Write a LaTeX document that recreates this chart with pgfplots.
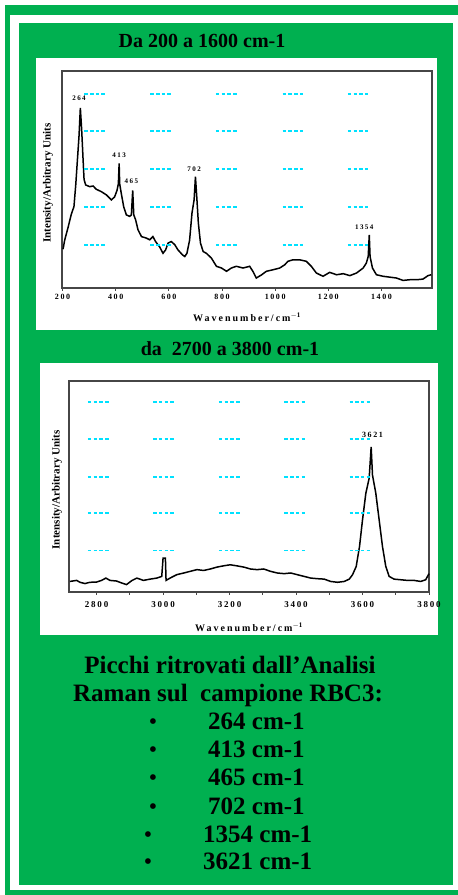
\documentclass[border=0pt]{standalone}
\usepackage{fontspec}
\setmainfont{Liberation Serif}
\newfontfamily\spf[LetterSpace=20]{Liberation Serif}
\usepackage{pgfplots}
\pgfplotsset{compat=1.18}
\definecolor{grn}{RGB}{0,176,80}
\definecolor{cy}{RGB}{0,225,255}
\definecolor{axc}{RGB}{70,70,70}
\newcommand{\cyd}{\textcolor{cy}{\rule{3.5pt}{1.8pt}\hspace{2.2pt}\rule{3.5pt}{1.8pt}\hspace{2.2pt}\rule{3.5pt}{1.8pt}\hspace{2.2pt}\rule{3.5pt}{1.8pt}}}
\newcommand{\bul}{{\fontsize{21}{21}\selectfont\textbullet}}
\pgfplotsset{spec/.style={scale only axis, anchor=south west, ymin=0, ymax=100, ytick=\empty,
  axis line style={axc, line width=1.4pt}, tick style={axc, line width=0.8pt},
  tick align=outside, major tick length=3pt, minor tick length=3pt, xtick pos=lower,
  /pgf/number format/assume math mode=true, /pgf/number format/1000 sep={},
  ylabel style={font=\bfseries\fontsize{11}{12}\selectfont, anchor=center},
  xlabel style={font=\spf\bfseries\fontsize{10}{11}\selectfont, anchor=center},
  clip=false}}
\begin{document}
\begin{tikzpicture}[x=1pt,y=1pt]
\path[use as bounding box] (0,0) rectangle (458,895);
\fill[white] (0,0) rectangle (458,895);
\fill[grn] (5,0) rectangle (458,890);
\fill[white] (10,5) rectangle (458,880);
\fill[grn] (19,10) rectangle (453,872);
\fill[white] (36,565) rectangle (437,837);
\fill[white] (40,260) rectangle (438,532);
% titles
\node[anchor=base, font=\bfseries\fontsize{20}{24}\selectfont] at (202,847) {Da 200 a 1600 cm-1};
\node[anchor=base, font=\bfseries\fontsize{20}{24}\selectfont] at (230,539) {da\ \ 2700 a 3800 cm-1};
% bottom text
\begin{scope}[every node/.style={font=\bfseries\fontsize{25}{28}\selectfont, inner sep=0pt}]
\node[anchor=base] at (230,221.7) {Picchi ritrovati\ dall'Analisi};
\node[anchor=base] at (228,193.4) {Raman sul\ \ campione RBC3:};
\node[anchor=base] at (153,166) {\bul};
\node[anchor=base west] at (208,165) {264 cm-1};
\node[anchor=base] at (153,138.4) {\bul};
\node[anchor=base west] at (208,137.4) {413 cm-1};
\node[anchor=base] at (153,110) {\bul};
\node[anchor=base west] at (208,109) {465 cm-1};
\node[anchor=base] at (153,81.7) {\bul};
\node[anchor=base west] at (208,80.7) {702 cm-1};
\node[anchor=base] at (148,53.7) {\bul};
\node[anchor=base west] at (203,52.7) {1354 cm-1};
\node[anchor=base] at (148,26) {\bul};
\node[anchor=base west] at (203,25) {3621 cm-1};
\end{scope}
% ---------- axis 1
\begin{axis}[spec, at={(62pt,607pt)}, width=370pt, height=217pt,
  xmin=198, xmax=1590, xtick={200,400,...,1400},
  xticklabel style={font=\spf\bfseries\fontsize{8}{9}\selectfont},
  ylabel={Intensity/Arbitrary Units},
  ylabel style={at={(axis description cs:-0.038,0.484)}},
  xlabel={Wavenumber/cm$^{\mathbf{-1}}$},
  xlabel style={at={(axis description cs:0.5,0)}, yshift=-29pt}]
\addplot[black, line width=1.5pt] coordinates {
(202,17.9) (208,22) (221,28) (233,34) (243,37.5) (250,48) (256,59) (262,70) (267,83)
(272,73) (277,60) (281,50) (287,47.5) (302,46.7) (315,47) (327,45.5) (346,44.4) (365,42.9)
(384,40.6) (396,42) (405,45) (410,48) (413,57.4) (415,48) (421,43.6) (430,37.5) (440,33.7)
(453,33) (459,33.7) (464,45) (468,33.7) (475,31.4) (484,26.8) (497,23.7) (515,23) (528,22.2)
(540,23.7) (550,21.4) (565,19) (578,16) (588,17.6) (597,20.7) (609,21.4) (622,20) (634,17.6)
(651,15.3) (660,14.5) (668,16) (678,22) (687,34.5) (695,40.6) (700,51.3) (705,42) (711,29.9)
(719,20.7) (729,16.8) (741,16) (760,13.8) (779,10) (798,9.2) (817,7.7) (835,9.2) (854,10)
(879,9.2) (904,10) (916,7.7) (929,4.6) (948,6) (967,7.7) (992,8.4) (1017,9.2) (1036,10.7)
(1048,12.3) (1067,13) (1092,13) (1117,12.3) (1136,10) (1155,6.9) (1180,5.4) (1205,7.2)
(1231,6.1) (1256,6.6) (1281,5.7) (1306,6.9) (1331,9.2) (1343,11.5) (1350,14.5) (1354,24.5)
(1357,14.5) (1366,9.2) (1381,6.1) (1406,5.4) (1431,5) (1456,4.6) (1481,3.5) (1506,3.8)
(1531,3.8) (1556,4.1) (1575,5.7) (1587,6.1)};
\foreach \xx in {321,569,816,1067,1312}{\foreach \yy in {89.3,72.3,54.8,37.5,19.9}{
  \edef\tmp{\noexpand\node[inner sep=0pt] at (axis cs:\xx,\yy) {\noexpand\cyd};}\tmp}}
\begin{scope}[every node/.style={font=\spf\bfseries\fontsize{7}{8}\selectfont, inner sep=0pt}]
\node at (axis cs:262,87.3) {264};
\node at (axis cs:413,61) {413};
\node at (axis cs:459,49) {465};
\node at (axis cs:695,54.7) {702};
\node at (axis cs:1335,28) {1354};
\end{scope}
\end{axis}
% ---------- axis 2
\begin{axis}[spec, at={(69pt,303pt)}, width=360pt, height=211pt,
  xmin=2717, xmax=3800, xtick={2800,3000,...,3800}, minor tick num=1,
  xticklabel style={font=\spf\bfseries\fontsize{9}{10}\selectfont, yshift=-3pt},
  ylabel={Intensity/Arbitrary Units},
  ylabel style={at={(axis description cs:-0.033,0.484)}},
  xlabel={Wavenumber/cm$^{\mathbf{-1}}$},
  xlabel style={at={(axis description cs:0.5,0)}, yshift=-35pt}]
\addplot[black, line width=1.5pt] coordinates {
(2719.5,5) (2740,5.5) (2750,4.6) (2765,4) (2780,4.6) (2800,4.7) (2815,5.5) (2828,6.6)
(2840,5.5) (2860,5.2) (2875,4.3) (2890,3.5) (2906,5.4) (2921,6.6) (2941,5.5) (2961,6.1)
(2981,6.6) (2996,7.4) (3000,16) (3007,16) (3009,5.5) (3021,6.6) (3041,8.2) (3062,9)
(3082,9.8) (3102,10.6) (3122,10.2) (3142,10.9) (3162,11.8) (3182,12.4) (3202,12.9)
(3222,12.4) (3243,11.8) (3263,10.9) (3283,10.6) (3303,10.9) (3323,9.8) (3344,9) (3364,8.7)
(3384,9) (3404,8.2) (3424,7.4) (3444,6.6) (3465,6.3) (3485,6.1) (3504,5) (3525,4.6)
(3545,5) (3560,6.1) (3570,8.2) (3581,12.1) (3591,21.6) (3600,34.2) (3610,46.8) (3620,53.9)
(3626,68.8) (3630,55.4) (3640,46.8) (3650,34.2) (3660,21.6) (3670,12.1) (3680,7.4)
(3695,6.1) (3715,5.8) (3735,5.5) (3755,5.5) (3775,5) (3790,5.8) (3800,8.7)};
\foreach \xx in {2805,3001,3199,3396,3592}{\foreach \yy in {90,72.4,54.6,37.6,19.7}{
  \edef\tmp{\noexpand\node[inner sep=0pt] at (axis cs:\xx,\yy) {\noexpand\cyd};}\tmp}}
\node[font=\spf\bfseries\fontsize{8}{9}\selectfont, inner sep=0pt] at (axis cs:3630,74.3) {3621};
\end{axis}
\end{tikzpicture}
\end{document}
